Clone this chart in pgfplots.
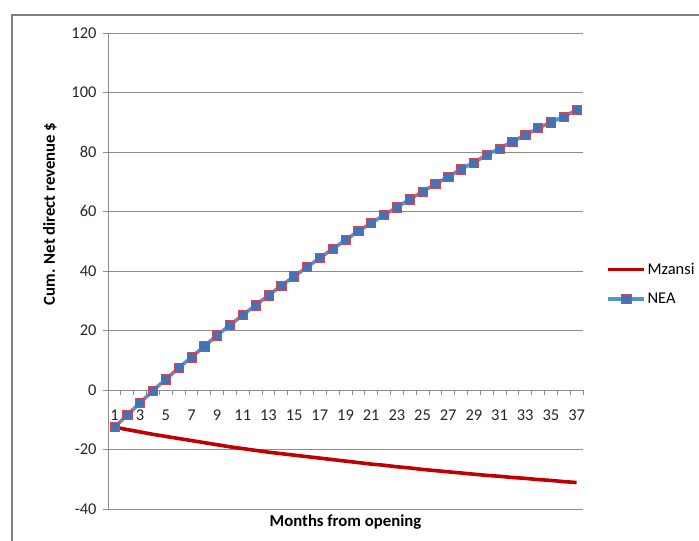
\documentclass[border=0pt]{standalone}
\usepackage{pgfplots}
\pgfplotsset{compat=1.18}
\usepackage{fontspec}
\setmainfont{Carlito}

\definecolor{gridgray}{RGB}{140,140,140}
\definecolor{framegray}{RGB}{128,128,128}
\definecolor{mzred}{RGB}{192,0,0}
\definecolor{nealine}{RGB}{86,145,210}
\definecolor{neafill}{RGB}{68,114,180}
\definecolor{neaedge}{RGB}{215,70,80}

% Cumulative net direct revenue per month since opening
\pgfplotstableread{
month mzansi
1  -12.5
2  -13.3
3  -14.1
4  -14.9
5  -15.6
6  -16.3
7  -17.0
8  -17.7
9  -18.4
10 -19.1
11 -19.7
12 -20.3
13 -20.9
14 -21.4
15 -21.9
16 -22.4
17 -22.9
18 -23.4
19 -23.9
20 -24.4
21 -24.9
22 -25.3
23 -25.8
24 -26.2
25 -26.7
26 -27.1
27 -27.5
28 -27.9
29 -28.3
30 -28.7
31 -29.0
32 -29.4
33 -29.7
34 -30.1
35 -30.4
36 -30.8
37 -31.1
}\mzansi

\pgfplotstableread{
month nea
1  -12.5
2  -8.4
3  -4.3
4  -0.2
5  3.6
6  7.4
7  11.0
8  14.7
9  18.4
10 21.8
11 25.2
12 28.5
13 31.8
14 35.1
15 38.2
16 41.3
17 44.4
18 47.4
19 50.4
20 53.4
21 56.1
22 58.8
23 61.4
24 64.1
25 66.7
26 69.2
27 71.7
28 74.2
29 76.5
30 79.0
31 81.2
32 83.5
33 85.7
34 88.0
35 90.0
36 91.9
37 94.1
}\nea

\begin{document}
\begin{tikzpicture}
\useasboundingbox (0bp,0bp) rectangle (699bp,541bp);
% chart area frame
\draw[framegray, line width=1.5bp] (12bp,-20bp) rectangle (730bp,526bp);
\begin{axis}[
  at={(108bp,32bp)}, anchor=south west,
  scale only axis, width=475bp, height=476bp,
  xmin=0.5, xmax=37.5, ymin=-40, ymax=120,
  axis x line*=middle, axis y line*=left,
  axis line style={gridgray, line width=0.8bp},
  ytick={-40,-20,0,20,40,60,80,100,120},
  yticklabels={-40,-20,0,20,40,60,80,100,120},
  ymajorgrids, grid style={gridgray, line width=0.8bp},
  xtick={1,3,...,37},
  xticklabels={1,3,5,7,9,11,13,15,17,19,21,23,25,27,29,31,33,35,37},
  minor xtick={0.5,1.5,...,37.5},
  major tick length=5bp, minor tick length=5bp,
  xtick align=outside, ytick align=outside,
  major x tick style={draw=none},
  minor x tick style={gridgray, line width=0.8bp},
  y tick style={gridgray, line width=0.8bp},
  tick label style={font=\fontsize{16.5}{18}\selectfont, text=black!85},
  xticklabel style={yshift=-11bp},
  yticklabel style={xshift=-3bp},
  xlabel={\textbf{Months from opening}},
  ylabel={\textbf{Cum. Net direct revenue \$}},
  label style={font=\fontsize{16.8}{19}\selectfont},
  xlabel style={at={(rel axis cs:0.5,0)}, anchor=center, yshift=-13bp},
  ylabel style={at={(rel axis cs:0,0.62)}, anchor=center, yshift=58bp},
  legend style={at={(rel axis cs:1.049,0.52)}, anchor=north west,
    draw=none, fill=none, inner sep=0pt, row sep=14bp,
    font=\fontsize{16.5}{18}\selectfont,
    nodes={inner sep=1.5bp}},
  legend cell align=left,
  legend image code/.code={
    \draw[mark repeat=2, mark phase=2, #1]
      plot coordinates {(0bp,0bp) (18bp,0bp) (36bp,0bp)};},
  clip=false,
]
\addplot[mzred, line width=3.6bp, mark=none] table[x=month, y=mzansi] {\mzansi};
\addlegendentry{Mzansi}
\addplot[nealine, line width=3.6bp, mark=square*,
  mark size=4.6bp,
  mark options={fill=neafill, draw=neaedge, line width=0.6bp}]
  table[x=month, y=nea] {\nea};
\addlegendentry{NEA}
\end{axis}
\end{tikzpicture}
\end{document}
